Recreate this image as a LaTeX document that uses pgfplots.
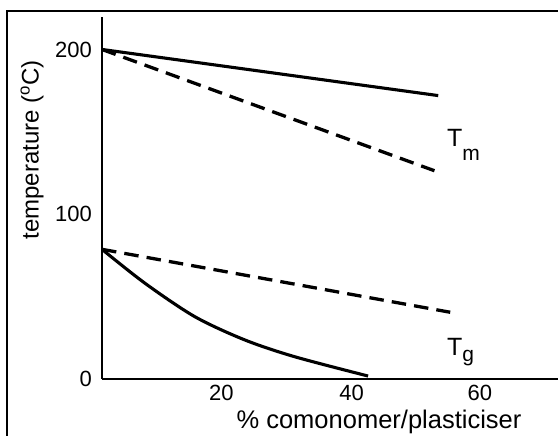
\documentclass[border=0pt]{standalone}
\usepackage{fontspec}
\setmainfont{Liberation Sans}
\usepackage{pgfplots}
\pgfplotsset{compat=1.18}

\begin{document}
\begin{tikzpicture}
\useasboundingbox (0,0) rectangle (558pt,436pt);
% outer frame (left and top edges visible)
\draw[line width=2pt] (7pt,-5pt) -- (7pt,425pt) -- (565pt,425pt);

\begin{axis}[
    at={(102pt,57pt)}, anchor=south west,
    scale only axis,
    width=456pt, height=362pt,
    xmin=0, xmax=72.15,
    ymin=0, ymax=219.7,
    axis x line=bottom, axis y line=left,
    axis line style={-, line width=1.4pt},
    clip=false,
    major tick length=0pt,
    xtick={18.9,39.5,59.8},
    xticklabels={20,40,60},
    ytick={0,100,200},
    /pgf/number format/assume math mode=true,
    xticklabel style={anchor=center, yshift=-14pt, font=\fontsize{22}{26}\selectfont},
    yticklabel style={anchor=east, inner sep=0pt, xshift=-10pt, font=\fontsize{22}{26}\selectfont},
]
% Tm, solid
\addplot[black, line width=3.1pt] coordinates {(0,200) (53.2,172)};
% Tm, dashed
\addplot[black, line width=3.3pt, dash pattern=on 14.5pt off 8.15pt] coordinates {(0,200) (52.6,126.4)};
% Tg, dashed
\addplot[black, line width=3.3pt, dash pattern=on 14.5pt off 8.15pt] coordinates {(0,78.7) (55.1,40.5)};
% Tg, solid curve
\addplot[black, line width=3.1pt, smooth, tension=0.5] coordinates {
    (0,78.7) (6.8,58.1) (14.7,37.8) (22.6,23.7) (30.5,13.5) (42.1,1.8)
};
\end{axis}

\node[rotate=90, font=\fontsize{24}{28}\selectfont] at (32pt,286pt)
    {temperature (\textsuperscript{o}C)};
\node[font=\fontsize{25.5}{30}\selectfont] at (379pt,14pt)
    {\% comonomer/plasticiser};
\node[anchor=base west, inner sep=0pt, font=\fontsize{25}{28}\selectfont] at (447pt,289.5pt)
    {T\raisebox{-14pt}{\fontsize{21}{24}\selectfont m}};
\node[anchor=base west, inner sep=0pt, font=\fontsize{25}{28}\selectfont] at (447pt,80.5pt)
    {T\raisebox{-6pt}{\fontsize{21}{24}\selectfont g}};
\end{tikzpicture}
\end{document}
